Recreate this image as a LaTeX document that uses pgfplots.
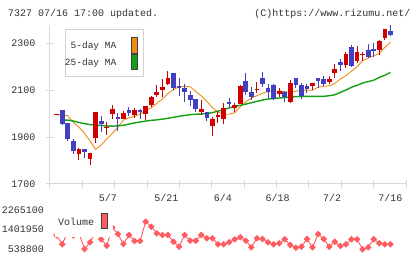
\documentclass[border=0pt]{standalone}
\usepackage{pgfplots}
\pgfplotsset{compat=1.18}
\usepackage{pgfplotstable}
\usepackage{fontspec}
\setmonofont{Liberation Mono}

\definecolor{upred}{RGB}{208,0,0}
\definecolor{downblue}{RGB}{64,64,192}
\definecolor{maorange}{RGB}{240,140,20}
\definecolor{magreen}{RGB}{20,160,20}
\definecolor{volred}{RGB}{255,92,96}
\definecolor{axisgray}{RGB}{216,216,216}
\definecolor{boxgray}{RGB}{210,210,210}
\definecolor{txtgray}{RGB}{51,51,51}
\definecolor{swatchedge}{RGB}{64,64,64}

\newcommand\lbl{\ttfamily\fontsize{10bp}{12bp}\selectfont}
\newcommand\lgd{\ttfamily\fontsize{9.5bp}{11bp}\selectfont}

% candle stems and bodies are drawn as error bars without visible markers
\pgfplotsset{
  candle/.style 2 args={only marks, mark=*, mark size=0.1pt, mark options={opacity=0},
    forget plot,
    error bars/.cd, y dir=plus, y explicit, error mark=none,
    error bar style={line width=#1, draw=#2}},
}

% daily candles, index = trading day
% rising days (close above open)
\pgfplotstableread{
i  o    h    l    c
0  1995 1999 1995 1999
4  1828 1854 1802 1849
6  1808 1832 1781 1832
7  1897 2006 1873 2006
9  1939 1965 1908 1943
10 1999 2036 1976 2020
12 1978 2012 1976 2003
14 1994 2025 1980 2015
16 1998 2034 1972 2032
17 2036 2074 2029 2070
18 2079 2121 2069 2092
19 2100 2146 2072 2114
20 2125 2181 2121 2151
26 2008 2057 1994 2019
28 1947 1986 1906 1975
29 1987 2012 1961 1994
30 1978 2043 1957 2022
32 2023 2046 2005 2035
33 2042 2121 2040 2117
36 2101 2134 2088 2105
40 2083 2110 2072 2097
42 2048 2142 2046 2128
46 2118 2130 2100 2130
49 2134 2160 2125 2147
50 2171 2211 2152 2189
52 2206 2262 2196 2253
54 2225 2286 2214 2262
55 2250 2262 2223 2254
58 2270 2313 2250 2307
59 2323 2360 2311 2358
}\uptab

% falling days (close below open)
\pgfplotstableread{
i  o    h    l    c
1  2015 2015 1952 1955
2  1961 1961 1884 1890
3  1883 1891 1829 1842
5  1849 1849 1809 1838
8  1969 1989 1920 1957
11 1985 2001 1927 1975
13 2016 2026 1991 2003
15 2015 2018 1975 2005
21 2174 2174 2099 2108
22 2117 2152 2074 2110
23 2110 2127 2050 2093
24 2079 2097 2032 2059
25 2062 2062 2008 2020
27 2005 2005 1969 1980
31 2047 2066 2026 2040
34 2138 2171 2079 2092
35 2092 2111 2056 2069
37 2151 2177 2114 2127
38 2108 2127 2067 2093
39 2121 2125 2057 2060
41 2093 2095 2051 2070
43 2151 2153 2110 2123
44 2120 2131 2060 2074
45 2117 2127 2086 2105
47 2151 2151 2110 2138
48 2147 2160 2117 2125
51 2220 2232 2182 2206
53 2282 2291 2200 2202
56 2270 2296 2235 2242
57 2274 2299 2242 2266
60 2351 2377 2330 2334
}\downtab

% 5-day moving average
\pgfplotstableread{
i  v
0  1994
1  1994
2  1991
3  1962
4  1942
5  1916
6  1883
7  1848
8  1866
9  1892
10 1915
11 1942
12 1972
13 1982
14 1988
15 1997
16 2012
17 2024
18 2043
19 2062
20 2085
21 2102
22 2114
23 2115
24 2114
25 2094
26 2075
27 2052
28 2025
29 2006
30 1997
31 1997
32 2003
33 2029
34 2050
35 2066
36 2076
37 2086
38 2094
39 2096
40 2096
41 2093
42 2090
43 2095
44 2100
45 2100
46 2100
47 2112
48 2116
49 2118
50 2128
51 2147
52 2161
53 2180
54 2199
55 2225
56 2236
57 2246
58 2256
59 2282
60 2304
}\mafive

% 25-day moving average
\pgfplotstableread{
i  v
1  1972
2  1972
3  1968
4  1962
5  1957
6  1953
7  1951
8  1949
9  1947
10 1946
11 1948
12 1950
13 1955
14 1960
15 1964
16 1968
17 1971
18 1973
19 1976
20 1980
21 1984
22 1988
23 1992
24 1995
25 1997
26 1998
27 2000
28 2004
29 2010
30 2017
31 2024
32 2030
33 2035
34 2040
35 2046
36 2052
37 2057
38 2062
39 2064
40 2066
41 2068
42 2070
43 2072
44 2073
45 2073
46 2073
47 2073
48 2073
49 2076
50 2080
51 2090
52 2100
53 2112
54 2120
55 2130
56 2136
57 2142
58 2154
59 2163
60 2175
}\matwentyfive

% daily volume
\pgfplotstableread{
i  v
0  1150000
1  758400
2  1300000
3  1145000
4  1250000
5  552000
6  846300
7  1300000
8  978100
9  696900
10 1500000
11 1210900
12 771600
13 1166900
14 903400
15 903400
16 1751200
17 1531500
18 1241600
19 1166900
20 1166900
21 872600
22 653000
23 1166900
24 916600
25 916600
26 1166900
27 1022000
28 1022000
29 758400
30 758400
31 850000
32 978100
33 1065900
34 916600
35 626700
36 1022000
37 991200
38 846300
39 758400
40 802400
41 978100
42 727700
43 609100
44 653000
45 991200
46 626700
47 1210900
48 991200
49 653000
50 872600
51 683800
52 758400
53 978100
54 978100
55 538800
56 626700
57 978100
58 802400
59 758400
60 758400
}\voltab

\begin{document}
\begin{tikzpicture}
\fill[white] (0,0) rectangle (420bp,259bp);
\path[use as bounding box] (0,0) rectangle (420bp,259bp);

% header
\node[anchor=base west, inner sep=0pt, text=txtgray, font=\lbl] at (8bp,242.5bp) {7327 07/16 17:00 updated.};
\node[anchor=base east, inner sep=0pt, text=txtgray, font=\lbl] at (410.5bp,242.5bp) {(C)https://www.rizumu.net/};

% price panel
\begin{axis}[
  at={(50bp,75bp)}, anchor=south west, scale only axis,
  width=356bp, height=159bp,
  xmin=-1.2, xmax=62.8, ymin=1700, ymax=2377,
  clip=false,
  axis x line*=bottom, axis y line*=left,
  axis line style={-, draw=axisgray, line width=1bp},
  tick style={draw=axisgray, line width=1bp},
  tick align=center, major tick length=8bp,
  xtick={-1.2,4.618,10.436,16.255,22.073,27.891,33.709,39.527,45.345,51.164,56.982,62.8},
  xticklabels={},
  extra x ticks={9.2,19.7,29.9,39.7,49.5,60},
  extra x tick labels={5/7,5/21,6/4,6/18,7/2,7/16},
  extra x tick style={major tick length=0pt},
  xticklabel style={anchor=north, inner sep=0pt, yshift=-10bp},
  ytick={1700,1900,2100,2300},
  yticklabels={1700,1900,2100,2300},
  yticklabel style={anchor=east, inner sep=0pt, xshift=-10.5bp},
  ticklabel style={font=\lbl, text=txtgray},
]
\addplot[maorange, line width=0.9bp, no marks] table[x=i, y=v] {\mafive};
\addplot[magreen, line width=1.4bp, no marks] table[x=i, y=v] {\matwentyfive};
% wicks
\addplot[candle={1bp}{upred}]
  table[x=i, y=l, y error plus expr=\thisrow{h}-\thisrow{l}] {\uptab};
\addplot[candle={1bp}{downblue}]
  table[x=i, y=l, y error plus expr=\thisrow{h}-\thisrow{l}] {\downtab};
% bodies
\addplot[candle={4.7bp}{upred}]
  table[x=i, y=o, y error plus expr=\thisrow{c}-\thisrow{o}] {\uptab};
\addplot[candle={4.7bp}{downblue}]
  table[x=i, y=c, y error plus expr=\thisrow{o}-\thisrow{c}] {\downtab};
\end{axis}

% volume panel
\begin{axis}[
  at={(50bp,9.7bp)}, anchor=south west, scale only axis,
  width=356bp, height=39.3bp,
  xmin=-1.2, xmax=62.8, ymin=538800, ymax=2265100,
  clip=false,
  axis line style={draw=none},
  xtick=\empty,
  ytick={538800,1401950,2265100},
  yticklabels={538800,1401950,2265100},
  scaled y ticks=false,
  major tick length=0pt, ytick pos=left,
  yticklabel style={anchor=east, inner sep=0pt, xshift=-6bp},
  ticklabel style={font=\lbl, text=txtgray},
]
\addplot[volred, line width=0.9bp, mark=square*, mark size=1.9bp,
  mark options={rotate=45, draw=volred, fill=volred}] table[x=i, y=v] {\voltab};
\end{axis}

% price legend
\draw[boxgray, line width=1bp, fill=white] (65.7bp,229bp) rectangle (143.3bp,182.3bp);
\node[anchor=east, inner sep=0pt, text=txtgray, font=\lgd] at (116.5bp,213bp) {5-day MA};
\node[anchor=east, inner sep=0pt, text=txtgray, font=\lgd] at (116.5bp,195.7bp) {25-day MA};
\draw[swatchedge, line width=0.9bp, fill=maorange] (131.3bp,221.7bp) rectangle (137.3bp,205.7bp);
\draw[swatchedge, line width=0.9bp, fill=magreen] (131.3bp,204.7bp) rectangle (137.3bp,189.7bp);

% volume legend
\fill[white] (55bp,54bp) rectangle (113bp,22bp);
\node[anchor=west, inner sep=0pt, text=txtgray, font=\lbl] at (58bp,36.7bp) {Volume};
\draw[swatchedge, line width=0.9bp, fill=volred] (101.7bp,46bp) rectangle (107.3bp,30.7bp);
\end{tikzpicture}
\end{document}
